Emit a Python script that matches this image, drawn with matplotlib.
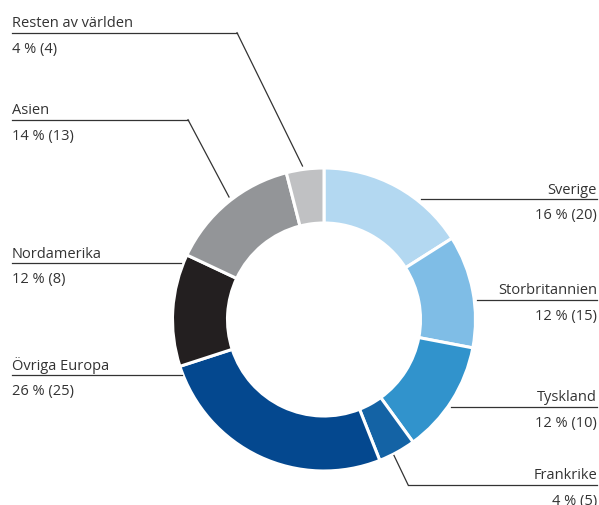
import matplotlib
matplotlib.use('Agg')
import matplotlib.pyplot as plt

# data
regions = ['Sverige', 'Storbritannien', 'Tyskland', 'Frankrike',
           'Övriga Europa', 'Nordamerika', 'Asien', 'Resten av världen']
shares = [16, 12, 12, 4, 26, 12, 14, 4]        # %
prev_shares = [20, 15, 10, 5, 25, 8, 13, 4]    # previous year, in brackets

# colours, same order as regions
colors = ['#b3d8f1', '#7fbde6', '#3193cc', '#1463a5',
          '#04488f', '#231f20', '#939598', '#c0c1c3']

# label layout in pixel coords (top-left origin):
# (side, line y, line start x, line end x, optional bend point on the ring)
layout = {
    'Sverige':           ('right', 200.3, 421, 597, None),
    'Storbritannien':    ('right', 301.0, 477, 597, None),
    'Tyskland':          ('right', 408.0, 451, 597, None),
    'Frankrike':         ('right', 485.7, 408, 597, (394, 456.5)),
    'Övriga Europa':     ('left', 376.0, 12, 182, None),
    'Nordamerika':       ('left', 264.3, 12, 181, None),
    'Asien':             ('left', 120.7, 12, 188, (229, 198)),
    'Resten av världen': ('left', 33.7, 12, 237, (302.5, 167)),
}

W, H = 599, 506
fig = plt.figure(figsize=(W / 100, H / 100), dpi=100)
ax = fig.add_axes([0, 0, 1, 1])

# y axis is inverted below, so counterclock=True runs clockwise on screen
ax.pie(shares, colors=colors, center=(324, 320.5), radius=151.5,
       startangle=-90, counterclock=True,
       wedgeprops=dict(width=55, edgecolor='white', linewidth=2.2))

# pie resets the limits, so set pixel coords afterwards
ax.set_xlim(0, W)
ax.set_ylim(H, 0)
ax.set_aspect('equal')
ax.axis('off')

txt_color = '#333333'
font = dict(family='Open Sans', size=10.5, color=txt_color)

for name, share, prev in zip(regions, shares, prev_shares):
    side, ly, x0, x1, bend = layout[name]
    ax.plot([x0, x1], [ly, ly], color='#333333', lw=0.9)
    if side == 'right':
        if bend:
            ax.plot([bend[0], x0], [bend[1], ly], color='#333333', lw=0.9)
        tx, ha = x1, 'right'
    else:
        if bend:
            ax.plot([x1, bend[0]], [ly, bend[1]], color='#333333', lw=0.9)
        tx, ha = x0, 'left'
    ax.text(tx, ly - 6.5, name, ha=ha, va='baseline', **font)
    ax.text(tx, ly + 19, f'{share} % ({prev})', ha=ha, va='baseline', **font)

fig.savefig('out.png', dpi=100)
